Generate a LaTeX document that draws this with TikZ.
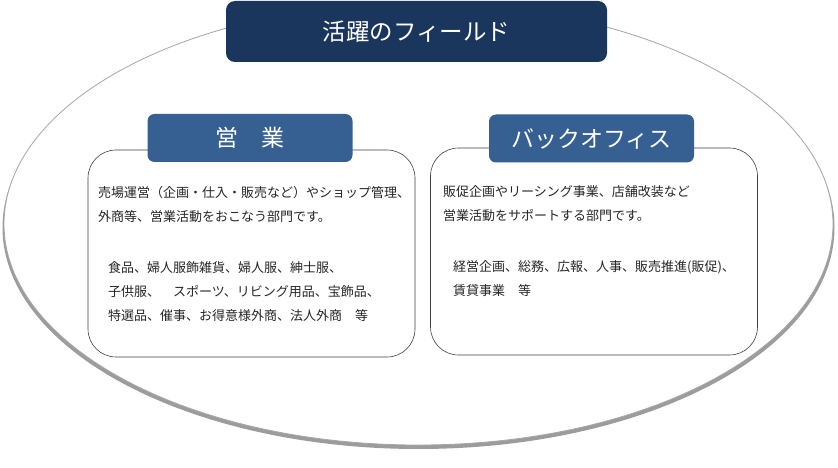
\documentclass[tikz,border=0pt]{standalone}
\usepackage{fontspec}
\newfontfamily\jp{Noto Sans CJK JP}
\usetikzlibrary{shapes.geometric}

\definecolor{navy}{HTML}{1B365D}
\definecolor{tabblue}{HTML}{366092}
\definecolor{rimgray}{HTML}{A6A6A6}
\definecolor{shadegray}{HTML}{9C9C9C}
\definecolor{edgegray}{HTML}{404040}

\begin{document}
\begin{tikzpicture}[x=1pt,y=-1pt,
    panel/.style={draw=edgegray,line width=0.6pt,fill=white,rounded corners=28pt,
        minimum width=327pt,minimum height=207pt},
    tab/.style={fill=tabblue,rounded corners=7pt,minimum width=205pt,minimum height=48pt,
        text=white,font=\jp\fontsize{23}{23}\selectfont},
    body/.style={anchor=north west,inner sep=0pt,align=left,text=black!85,
        font=\jp\fontsize{13}{24}\selectfont}]

\useasboundingbox (0,0) rectangle (838,468);

\coordinate (F) at (418.5,224);
\coordinate (S) at (418.5,227.5);
\coordinate (T) at (416.5,31.5);

\coordinate (E) at (251.5,253.5);
\coordinate (B) at (594,251.5);
\coordinate (Et) at (250,138);
\coordinate (Bt) at (591.5,138.5);


    \begin{scope} % Field ellipse
        \node[ellipse,fill=shadegray,minimum width=832,minimum height=443] (shade) at (S) {};
        \node[ellipse,draw=rimgray,line width=0.8pt,fill=white,minimum width=829,minimum height=442] (field) at (F) {};
    \end{scope}

    \begin{scope} % Panels
        \node[panel] (sales) at (E) {};
        \node[panel] (office) at (B) {};
        \node[tab] (salestab) at (Et) {営　業};
        \node[tab] (officetab) at (Bt) {バックオフィス};
    \end{scope}

\node[fill=navy,rounded corners=9pt,minimum width=381,minimum height=61,text=white,
    font=\jp\fontsize{23.5}{23.5}\selectfont] (title) at (T) {活躍のフィールド};

    \begin{scope} % Texts
        \node[body] (salesinfo) at (98,186)
            {売場運営（企画・仕入・販売など）やショップ管理、\\外商等、営業活動をおこなう部門です。};
        \node[body] (saleslist) at (108,261)
            {食品、婦人服飾雑貨、婦人服、紳士服、\\子供服、　スポーツ、リビング用品、宝飾品、\\特選品、催事、お得意様外商、法人外商　等};
        \node[body] (officeinfo) at (443,185)
            {販促企画やリーシング事業、店舗改装など\\営業活動をサポートする部門です。};
        \node[body] (officelist) at (453,260)
            {経営企画、総務、広報、人事、販売推進(販促)、\\賃貸事業　等};
    \end{scope}

\end{tikzpicture}
\end{document}
